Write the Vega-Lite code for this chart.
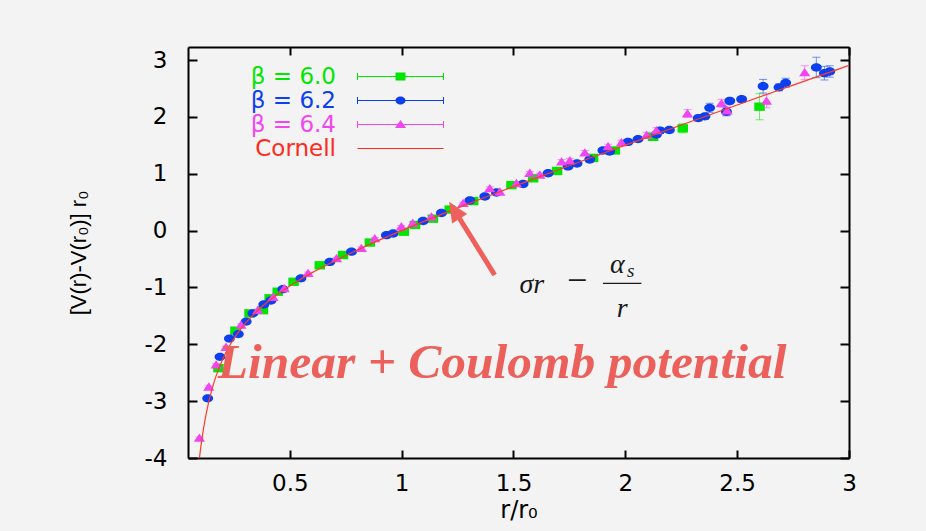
{
  "$schema": "https://vega.github.io/schema/vega-lite/v6.json",
  "width": 661,
  "height": 411,
  "autosize": "none",
  "padding": {"left": 188, "top": 47, "right": 77, "bottom": 73},
  "background": "#f3f3f3",
  "config": {
    "view": {"stroke": null},
    "axis": {
      "grid": false,
      "domainColor": "#000000",
      "domainWidth": 2,
      "tickColor": "#000000",
      "tickWidth": 2,
      "labelColor": "#000000",
      "titleColor": "#000000",
      "labelFont": "DejaVu Sans",
      "labelFontSize": 23,
      "titleFont": "DejaVu Sans",
      "titleFontSize": 24,
      "titleFontWeight": "normal",
      "labelFlush": false,
      "labelOverlap": false
    }
  },
  "resolve": {
    "axis": {"x": "independent", "y": "independent"},
    "legend": {"color": "independent"}
  },
  "datasets": {
    "lattice": [
      {"beta": "β = 6.0", "r": 0.181, "v": -2.42, "err": 0.02},
      {"beta": "β = 6.0", "r": 0.257, "v": -1.76, "err": 0.02},
      {"beta": "β = 6.0", "r": 0.32, "v": -1.455, "err": 0.02},
      {"beta": "β = 6.0", "r": 0.38, "v": -1.4, "err": 0.02},
      {"beta": "β = 6.0", "r": 0.41, "v": -1.19, "err": 0.02},
      {"beta": "β = 6.0", "r": 0.446, "v": -1.075, "err": 0.02},
      {"beta": "β = 6.0", "r": 0.517, "v": -0.9, "err": 0.02},
      {"beta": "β = 6.0", "r": 0.634, "v": -0.61, "err": 0.02},
      {"beta": "β = 6.0", "r": 0.738, "v": -0.43, "err": 0.02},
      {"beta": "β = 6.0", "r": 0.858, "v": -0.21, "err": 0.02},
      {"beta": "β = 6.0", "r": 1.01, "v": -0.02, "err": 0.02},
      {"beta": "β = 6.0", "r": 1.06, "v": 0.1, "err": 0.02},
      {"beta": "β = 6.0", "r": 1.14, "v": 0.21, "err": 0.02},
      {"beta": "β = 6.0", "r": 1.215, "v": 0.37, "err": 0.02},
      {"beta": "β = 6.0", "r": 1.32, "v": 0.52, "err": 0.02},
      {"beta": "β = 6.0", "r": 1.491, "v": 0.8, "err": 0.03},
      {"beta": "β = 6.0", "r": 1.588, "v": 0.92, "err": 0.03},
      {"beta": "β = 6.0", "r": 1.695, "v": 1.05, "err": 0.03},
      {"beta": "β = 6.0", "r": 1.856, "v": 1.28, "err": 0.04},
      {"beta": "β = 6.0", "r": 1.953, "v": 1.41, "err": 0.04},
      {"beta": "β = 6.0", "r": 2.124, "v": 1.65, "err": 0.04},
      {"beta": "β = 6.0", "r": 2.257, "v": 1.8, "err": 0.08},
      {"beta": "β = 6.0", "r": 2.6, "v": 2.18, "err": 0.23},
      {"beta": "β = 6.2", "r": 0.133, "v": -2.95, "err": 0.02},
      {"beta": "β = 6.2", "r": 0.188, "v": -2.22, "err": 0.02},
      {"beta": "β = 6.2", "r": 0.23, "v": -1.9, "err": 0.02},
      {"beta": "β = 6.2", "r": 0.27, "v": -1.82, "err": 0.02},
      {"beta": "β = 6.2", "r": 0.305, "v": -1.6, "err": 0.02},
      {"beta": "β = 6.2", "r": 0.335, "v": -1.455, "err": 0.02},
      {"beta": "β = 6.2", "r": 0.384, "v": -1.3, "err": 0.02},
      {"beta": "β = 6.2", "r": 0.416, "v": -1.23, "err": 0.02},
      {"beta": "β = 6.2", "r": 0.469, "v": -1.03, "err": 0.02},
      {"beta": "β = 6.2", "r": 0.55, "v": -0.84, "err": 0.02},
      {"beta": "β = 6.2", "r": 0.679, "v": -0.55, "err": 0.02},
      {"beta": "β = 6.2", "r": 0.776, "v": -0.37, "err": 0.02},
      {"beta": "β = 6.2", "r": 0.932, "v": -0.08, "err": 0.02},
      {"beta": "β = 6.2", "r": 0.962, "v": -0.05, "err": 0.02},
      {"beta": "β = 6.2", "r": 1.096, "v": 0.17, "err": 0.02},
      {"beta": "β = 6.2", "r": 1.178, "v": 0.31, "err": 0.02},
      {"beta": "β = 6.2", "r": 1.305, "v": 0.53, "err": 0.02},
      {"beta": "β = 6.2", "r": 1.372, "v": 0.6, "err": 0.02},
      {"beta": "β = 6.2", "r": 1.424, "v": 0.67, "err": 0.02},
      {"beta": "β = 6.2", "r": 1.543, "v": 0.82, "err": 0.03},
      {"beta": "β = 6.2", "r": 1.655, "v": 1.01, "err": 0.03},
      {"beta": "β = 6.2", "r": 1.744, "v": 1.13, "err": 0.03},
      {"beta": "β = 6.2", "r": 1.784, "v": 1.18, "err": 0.03},
      {"beta": "β = 6.2", "r": 1.841, "v": 1.25, "err": 0.04},
      {"beta": "β = 6.2", "r": 1.9, "v": 1.41, "err": 0.04},
      {"beta": "β = 6.2", "r": 1.93, "v": 1.39, "err": 0.04},
      {"beta": "β = 6.2", "r": 2.012, "v": 1.56, "err": 0.04},
      {"beta": "β = 6.2", "r": 2.057, "v": 1.61, "err": 0.04},
      {"beta": "β = 6.2", "r": 2.139, "v": 1.69, "err": 0.04},
      {"beta": "β = 6.2", "r": 2.155, "v": 1.76, "err": 0.05},
      {"beta": "β = 6.2", "r": 2.197, "v": 1.77, "err": 0.04},
      {"beta": "β = 6.2", "r": 2.326, "v": 1.98, "err": 0.05},
      {"beta": "β = 6.2", "r": 2.356, "v": 2.01, "err": 0.05},
      {"beta": "β = 6.2", "r": 2.377, "v": 2.16, "err": 0.08},
      {"beta": "β = 6.2", "r": 2.452, "v": 2.09, "err": 0.07},
      {"beta": "β = 6.2", "r": 2.467, "v": 2.28, "err": 0.05},
      {"beta": "β = 6.2", "r": 2.52, "v": 2.31, "err": 0.05},
      {"beta": "β = 6.2", "r": 2.616, "v": 2.54, "err": 0.12},
      {"beta": "β = 6.2", "r": 2.687, "v": 2.52, "err": 0.06},
      {"beta": "β = 6.2", "r": 2.717, "v": 2.6, "err": 0.08},
      {"beta": "β = 6.2", "r": 2.854, "v": 2.87, "err": 0.18},
      {"beta": "β = 6.2", "r": 2.89, "v": 2.77, "err": 0.12},
      {"beta": "β = 6.2", "r": 2.914, "v": 2.8, "err": 0.1},
      {"beta": "β = 6.4", "r": 0.096, "v": -3.65, "err": 0.02},
      {"beta": "β = 6.4", "r": 0.138, "v": -2.75, "err": 0.02},
      {"beta": "β = 6.4", "r": 0.171, "v": -2.36, "err": 0.02},
      {"beta": "β = 6.4", "r": 0.215, "v": -2.05, "err": 0.02},
      {"beta": "β = 6.4", "r": 0.282, "v": -1.66, "err": 0.02},
      {"beta": "β = 6.4", "r": 0.357, "v": -1.4, "err": 0.02},
      {"beta": "β = 6.4", "r": 0.425, "v": -1.17, "err": 0.02},
      {"beta": "β = 6.4", "r": 0.475, "v": -1.02, "err": 0.02},
      {"beta": "β = 6.4", "r": 0.582, "v": -0.75, "err": 0.02},
      {"beta": "β = 6.4", "r": 0.709, "v": -0.49, "err": 0.02},
      {"beta": "β = 6.4", "r": 0.82, "v": -0.31, "err": 0.02},
      {"beta": "β = 6.4", "r": 0.88, "v": -0.14, "err": 0.02},
      {"beta": "β = 6.4", "r": 0.999, "v": 0.07, "err": 0.02},
      {"beta": "β = 6.4", "r": 1.05, "v": 0.13, "err": 0.02},
      {"beta": "β = 6.4", "r": 1.133, "v": 0.24, "err": 0.02},
      {"beta": "β = 6.4", "r": 1.275, "v": 0.48, "err": 0.02},
      {"beta": "β = 6.4", "r": 1.394, "v": 0.74, "err": 0.03},
      {"beta": "β = 6.4", "r": 1.439, "v": 0.68, "err": 0.03},
      {"beta": "β = 6.4", "r": 1.513, "v": 0.83, "err": 0.03},
      {"beta": "β = 6.4", "r": 1.573, "v": 1.01, "err": 0.03},
      {"beta": "β = 6.4", "r": 1.618, "v": 0.98, "err": 0.03},
      {"beta": "β = 6.4", "r": 1.715, "v": 1.21, "err": 0.04},
      {"beta": "β = 6.4", "r": 1.752, "v": 1.23, "err": 0.04},
      {"beta": "β = 6.4", "r": 1.819, "v": 1.37, "err": 0.04},
      {"beta": "β = 6.4", "r": 1.923, "v": 1.48, "err": 0.04},
      {"beta": "β = 6.4", "r": 1.983, "v": 1.55, "err": 0.04},
      {"beta": "β = 6.4", "r": 2.095, "v": 1.68, "err": 0.05},
      {"beta": "β = 6.4", "r": 2.139, "v": 1.76, "err": 0.05},
      {"beta": "β = 6.4", "r": 2.278, "v": 2.06, "err": 0.07},
      {"beta": "β = 6.4", "r": 2.43, "v": 2.24, "err": 0.07},
      {"beta": "β = 6.4", "r": 2.455, "v": 2.11, "err": 0.08},
      {"beta": "β = 6.4", "r": 2.631, "v": 2.28, "err": 0.12},
      {"beta": "β = 6.4", "r": 2.802, "v": 2.78, "err": 0.12}
    ],
    "cornell": [
      {"r": 0.092, "v": -4.142},
      {"r": 0.1, "v": -3.875},
      {"r": 0.11, "v": -3.593},
      {"r": 0.12, "v": -3.355},
      {"r": 0.13, "v": -3.153},
      {"r": 0.14, "v": -2.977},
      {"r": 0.15, "v": -2.824},
      {"r": 0.17, "v": -2.565},
      {"r": 0.2, "v": -2.264},
      {"r": 0.23, "v": -2.031},
      {"r": 0.26, "v": -1.843},
      {"r": 0.3, "v": -1.637},
      {"r": 0.35, "v": -1.429},
      {"r": 0.4, "v": -1.256},
      {"r": 0.45, "v": -1.106},
      {"r": 0.5, "v": -0.973},
      {"r": 0.6, "v": -0.739},
      {"r": 0.7, "v": -0.533},
      {"r": 0.8, "v": -0.345},
      {"r": 0.9, "v": -0.168},
      {"r": 1.0, "v": 0.0},
      {"r": 1.2, "v": 0.32},
      {"r": 1.4, "v": 0.626},
      {"r": 1.6, "v": 0.924},
      {"r": 1.8, "v": 1.215},
      {"r": 2.0, "v": 1.503},
      {"r": 2.25, "v": 1.858},
      {"r": 2.5, "v": 2.21},
      {"r": 2.75, "v": 2.559},
      {"r": 3.0, "v": 2.907}
    ]
  },
  "layer": [
    {
      "data": {"name": "lattice"},
      "mark": {
        "type": "errorbar",
        "ticks": {"size": 8, "opacity": 0.55},
        "rule": {"opacity": 0.55, "strokeWidth": 1}
      },
      "encoding": {
        "x": {"field": "r", "type": "quantitative", "scale": {"domain": [0.045, 3], "nice": false, "zero": false}, "axis": null},
        "y": {"field": "v", "type": "quantitative", "scale": {"domain": [-4, 3.23], "nice": false, "zero": false}, "axis": null},
        "yError": {"field": "err"},
        "color": {
          "field": "beta", "type": "nominal",
          "scale": {"domain": ["β = 6.0", "β = 6.2", "β = 6.4", "Cornell"], "range": ["#00e600", "#0b3ff0", "#f046f0", "#ff2a1a"]},
          "legend": null
        }
      }
    },
    {
      "data": {"name": "lattice"},
      "mark": {"type": "point", "filled": true, "opacity": 1, "strokeWidth": 0, "size": 70},
      "encoding": {
        "x": {
          "field": "r", "type": "quantitative",
          "scale": {"domain": [0.045, 3], "nice": false, "zero": false},
          "axis": {"orient": "bottom", "values": [0.5, 1, 1.5, 2, 2.5, 3], "labelExpr": "'' + datum.value", "tickSize": -8, "labelPadding": 22, "title": "r/r₀", "titlePadding": 3}
        },
        "y": {
          "field": "v", "type": "quantitative",
          "scale": {"domain": [-4, 3.23], "nice": false, "zero": false},
          "axis": {"orient": "left", "values": [-4, -3, -2, -1, 0, 1, 2, 3], "labelExpr": "'' + datum.value", "tickSize": -9, "labelPadding": 30, "title": "[V(r)-V(r₀)] r₀", "titleFont": "Liberation Sans", "titleFontSize": 22, "titleX": -110, "titleY": 205.5, "titleBaseline": "middle"}
        },
        "color": {
          "field": "beta", "type": "nominal",
          "scale": {"domain": ["β = 6.0", "β = 6.2", "β = 6.4", "Cornell"], "range": ["#00e600", "#0b3ff0", "#f046f0", "#ff2a1a"]},
          "legend": {
            "orient": "none", "legendX": 201, "legendY": 18, "title": null, "padding": 0,
            "labelFont": "DejaVu Sans", "labelFontSize": 23, "labelAlign": "right", "labelBaseline": "middle",
            "labelOffset": -76, "labelLimit": 300, "symbolSize": 100, "symbolOffset": 0, "rowPadding": 0,
            "labelColor": {"expr": "scale('color', datum.value)"},
            "symbolType": {"expr": "datum.value === 'β = 6.0' ? 'M-8.7,-0.7H-8.5V0.7H-8.7ZM8.5,-0.7H8.7V0.7H8.5ZM-8.6,-0.1H8.6V0.1H-8.6ZM-1,-0.8H1V0.8H-1Z' : datum.value === 'β = 6.2' ? 'M-8.7,-0.7H-8.5V0.7H-8.7ZM8.5,-0.7H8.7V0.7H8.5ZM-8.6,-0.1H8.6V0.1H-8.6ZM-1,0A1,0.8,0,1,1,1,0A1,0.8,0,1,1,-1,0Z' : datum.value === 'β = 6.4' ? 'M-8.7,-0.7H-8.5V0.7H-8.7ZM8.5,-0.7H8.7V0.7H8.5ZM-8.6,-0.1H8.6V0.1H-8.6ZM0,-0.9L1.1,0.7H-1.1Z' : 'M-8.6,-0.12H8.6V0.12H-8.6Z'"}
          }
        },
        "shape": {
          "field": "beta", "type": "nominal",
          "scale": {"domain": ["β = 6.0", "β = 6.2", "β = 6.4"], "range": ["M-1.25,-1H1.25V1H-1.25Z", "M-1.3,0A1.3,1,0,1,1,1.3,0A1.3,1,0,1,1,-1.3,0Z", "M0,-1.1L1.35,0.9H-1.35Z"]},
          "legend": null
        }
      }
    },
    {
      "data": {"name": "cornell"},
      "mark": {"type": "line", "color": "#ff3a2a", "strokeWidth": 1.2, "clip": true, "interpolate": "monotone"},
      "encoding": {
        "x": {
          "field": "r", "type": "quantitative",
          "scale": {"domain": [0.045, 3], "nice": false, "zero": false},
          "axis": {"orient": "top", "values": [0.5, 1, 1.5, 2, 2.5, 3], "labels": false, "tickSize": -8, "title": null}
        },
        "y": {
          "field": "v", "type": "quantitative",
          "scale": {"domain": [-4, 3.23], "nice": false, "zero": false},
          "axis": {"orient": "right", "values": [-4, -3, -2, -1, 0, 1, 2, 3], "labels": false, "tickSize": -9, "title": null}
        }
      }
    },
    {
      "data": {"values": [{"r": 1.416, "v": -0.78, "r2": 1.236, "v2": 0.358}]},
      "mark": {"type": "rule", "color": "#ee605c", "strokeWidth": 5, "strokeCap": "butt"},
      "encoding": {
        "x": {"field": "r", "type": "quantitative", "scale": {"domain": [0.045, 3], "nice": false, "zero": false}, "axis": null},
        "y": {"field": "v", "type": "quantitative", "scale": {"domain": [-4, 3.23], "nice": false, "zero": false}, "axis": null},
        "x2": {"field": "r2"},
        "y2": {"field": "v2"}
      }
    },
    {
      "data": {"values": [{"r": 1.212, "v": 0.508}]},
      "mark": {"type": "point", "shape": "M0,0L-0.8,1.8L0.8,1.8Z", "size": 493, "angle": 328, "filled": true, "color": "#ee605c", "opacity": 1, "strokeWidth": 0},
      "encoding": {
        "x": {"field": "r", "type": "quantitative", "scale": {"domain": [0.045, 3], "nice": false, "zero": false}, "axis": null},
        "y": {"field": "v", "type": "quantitative", "scale": {"domain": [-4, 3.23], "nice": false, "zero": false}, "axis": null}
      }
    },
    {
      "data": {"values": [
        {"r": 1.582, "v": -1.103, "t": "σr"},
        {"r": 1.964, "v": -0.751, "t": "α"},
        {"r": 1.986, "v": -1.515, "t": "r"}
      ]},
      "mark": {"type": "text", "font": "Liberation Serif", "fontStyle": "italic", "fontSize": 28, "align": "center", "baseline": "alphabetic", "color": "#1a1a1a"},
      "encoding": {
        "x": {"field": "r", "type": "quantitative", "scale": {"domain": [0.045, 3], "nice": false, "zero": false}, "axis": null},
        "y": {"field": "v", "type": "quantitative", "scale": {"domain": [-4, 3.23], "nice": false, "zero": false}, "axis": null},
        "text": {"field": "t"}
      }
    },
    {
      "data": {"values": [{"r": 1.785, "v": -1.075, "t": "−"}]},
      "mark": {"type": "text", "font": "Liberation Serif", "fontSize": 36, "align": "center", "baseline": "alphabetic", "color": "#1a1a1a"},
      "encoding": {
        "x": {"field": "r", "type": "quantitative", "scale": {"domain": [0.045, 3], "nice": false, "zero": false}, "axis": null},
        "y": {"field": "v", "type": "quantitative", "scale": {"domain": [-4, 3.23], "nice": false, "zero": false}, "axis": null},
        "text": {"field": "t"}
      }
    },
    {
      "data": {"values": [{"r": 2.008, "v": -0.816, "t": "s"}]},
      "mark": {"type": "text", "font": "Liberation Serif", "fontStyle": "italic", "fontSize": 19, "align": "left", "baseline": "alphabetic", "color": "#1a1a1a"},
      "encoding": {
        "x": {"field": "r", "type": "quantitative", "scale": {"domain": [0.045, 3], "nice": false, "zero": false}, "axis": null},
        "y": {"field": "v", "type": "quantitative", "scale": {"domain": [-4, 3.23], "nice": false, "zero": false}, "axis": null},
        "text": {"field": "t"}
      }
    },
    {
      "data": {"values": [{"r": 1.9, "v": -0.927, "r2": 2.072}]},
      "mark": {"type": "rule", "color": "#1a1a1a", "strokeWidth": 1.3},
      "encoding": {
        "x": {"field": "r", "type": "quantitative", "scale": {"domain": [0.045, 3], "nice": false, "zero": false}, "axis": null},
        "y": {"field": "v", "type": "quantitative", "scale": {"domain": [-4, 3.23], "nice": false, "zero": false}, "axis": null},
        "x2": {"field": "r2"}
      }
    },
    {
      "data": {"values": [{"r": 0.178, "v": -2.598, "t": "Linear + Coulomb potential"}]},
      "mark": {"type": "text", "font": "Liberation Serif", "fontStyle": "italic", "fontWeight": "bold", "fontSize": 49.5, "align": "left", "baseline": "alphabetic", "color": "#ec605c"},
      "encoding": {
        "x": {"field": "r", "type": "quantitative", "scale": {"domain": [0.045, 3], "nice": false, "zero": false}, "axis": null},
        "y": {"field": "v", "type": "quantitative", "scale": {"domain": [-4, 3.23], "nice": false, "zero": false}, "axis": null},
        "text": {"field": "t"}
      }
    }
  ]
}
